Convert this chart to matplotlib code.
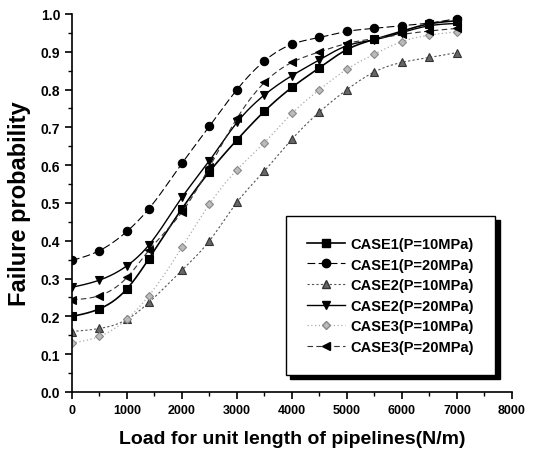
import numpy as np
import matplotlib
matplotlib.use("Agg")
import matplotlib.pyplot as plt

plt.rcParams['font.family'] = ['Liberation Sans', 'DejaVu Sans']
plt.rcParams['font.weight'] = 'bold'

# load (N/m)
load = [0, 500, 1000, 1400, 2000, 2500, 3000, 3500, 4000, 4500, 5000, 5500, 6000, 6500, 7000]

case1_10 = [0.200, 0.220, 0.273, 0.353, 0.485, 0.583, 0.667, 0.743, 0.806, 0.858, 0.906, 0.933, 0.955, 0.974, 0.982]
case1_20 = [0.348, 0.374, 0.425, 0.485, 0.605, 0.703, 0.800, 0.876, 0.920, 0.938, 0.954, 0.962, 0.969, 0.976, 0.988]
case2_10 = [0.160, 0.168, 0.192, 0.237, 0.322, 0.400, 0.502, 0.585, 0.669, 0.741, 0.800, 0.847, 0.872, 0.885, 0.898]
case2_20 = [0.277, 0.296, 0.334, 0.389, 0.515, 0.612, 0.713, 0.786, 0.837, 0.879, 0.916, 0.932, 0.951, 0.969, 0.975]
case3_10 = [0.130, 0.147, 0.193, 0.255, 0.383, 0.497, 0.588, 0.660, 0.737, 0.800, 0.854, 0.894, 0.927, 0.944, 0.953]
case3_20 = [0.244, 0.255, 0.303, 0.375, 0.476, 0.595, 0.724, 0.819, 0.872, 0.900, 0.922, 0.935, 0.946, 0.955, 0.962]

labels = ['CASE1(P=10MPa)', 'CASE1(P=20MPa)', 'CASE2(P=10MPa)',
          'CASE2(P=20MPa)', 'CASE3(P=10MPa)', 'CASE3(P=20MPa)']


def spline(x, y, n=300):
    # natural cubic spline, like Origin's smoothed line
    x = np.asarray(x, float)
    y = np.asarray(y, float)
    h = np.diff(x)
    m = len(x)
    A = np.zeros((m, m))
    b = np.zeros(m)
    A[0, 0] = A[-1, -1] = 1
    for i in range(1, m - 1):
        A[i, i - 1] = h[i - 1]
        A[i, i] = 2 * (h[i - 1] + h[i])
        A[i, i + 1] = h[i]
        b[i] = 6 * ((y[i + 1] - y[i]) / h[i] - (y[i] - y[i - 1]) / h[i - 1])
    M = np.linalg.solve(A, b)
    xs = np.linspace(x[0], x[-1], n)
    k = np.clip(np.searchsorted(x, xs) - 1, 0, m - 2)
    t = xs - x[k]
    hk = h[k]
    a = (M[k + 1] - M[k]) / (6 * hk)
    c = (y[k + 1] - y[k]) / hk - hk * (2 * M[k] + M[k + 1]) / 6
    ys = y[k] + c * t + M[k] / 2 * t ** 2 + a * t ** 3
    return xs, ys


fig = plt.figure(figsize=(5.34, 4.6), dpi=100)
ax = fig.add_axes([0.1348, 0.1457, 0.824, 0.8217])

styles = [
    dict(marker='s', color='black', ls='-', lw=1.2, mfc='black', mec='black'),
    dict(marker='o', color='black', ls=(0, (7, 3)), lw=0.8, mfc='black', mec='black'),
    dict(marker='^', color='#555555', ls=(0, (2, 2)), lw=0.8, mfc='#666666', mec='#333333'),
    dict(marker='v', color='black', ls='-', lw=1.0, mfc='black', mec='black'),
    dict(marker='D', color='#aaaaaa', ls=(0, (1, 2)), lw=0.9, mfc='#bbbbbb', mec='#888888'),
    dict(marker='<', color='#333333', ls=(0, (5, 3)), lw=0.8, mfc='black', mec='black'),
]
series = [case1_10, case1_20, case2_10, case2_20, case3_10, case3_20]

for vals, st, lab in zip(series, styles, labels):
    xs, ys = spline(load, vals)
    ax.plot(xs, ys, color=st['color'], ls=st['ls'], lw=st['lw'])
    ms = 4.5 if st['marker'] == 'D' else 6
    ax.plot(load, vals, ls='none', marker=st['marker'], ms=ms,
            mfc=st['mfc'], mec=st['mec'], mew=0.8)
    # proxy for legend
    ax.plot([], [], color=st['color'], ls=st['ls'], lw=st['lw'], marker=st['marker'],
            ms=ms, mfc=st['mfc'], mec=st['mec'], label=lab)

ax.set_xlim(0, 8000)
ax.set_ylim(0, 1.0)
ax.set_xticks(np.arange(0, 8001, 1000))
ax.set_xticks(np.arange(0, 8001, 500), minor=True)
ax.set_yticks(np.arange(0, 1.01, 0.1))
ax.set_yticks(np.arange(0, 1.01, 0.05), minor=True)
ax.set_yticklabels(['%.1f' % v for v in np.arange(0, 1.01, 0.1)])
ax.spines['top'].set_visible(False)
ax.spines['right'].set_visible(False)
ax.spines['left'].set_linewidth(1.2)
ax.spines['bottom'].set_linewidth(1.2)
ax.tick_params(which='major', direction='out', length=5, width=1.2, labelsize=10)
ax.tick_params(which='minor', direction='out', length=3, width=1.0)
ax.tick_params(axis='x', labelsize=9)

ax.set_xlabel('Load for unit length of pipelines(N/m)', fontsize=14, fontweight='bold', labelpad=10)
ax.set_ylabel('Failure probability', fontsize=17, fontweight='bold', labelpad=7)

leg = ax.legend(loc='upper left', bbox_to_anchor=(0.486, 0.466), fontsize=10.5,
                frameon=True, fancybox=False, edgecolor='black', framealpha=1,
                shadow={'ox': 3, 'oy': -3, 'color': 'black', 'alpha': 1},
                handlelength=2.6, handletextpad=0.4, labelspacing=0.45,
                borderpad=1.45, borderaxespad=0)
leg.get_frame().set_linewidth(1.0)

fig.savefig('out.png', dpi=100)
